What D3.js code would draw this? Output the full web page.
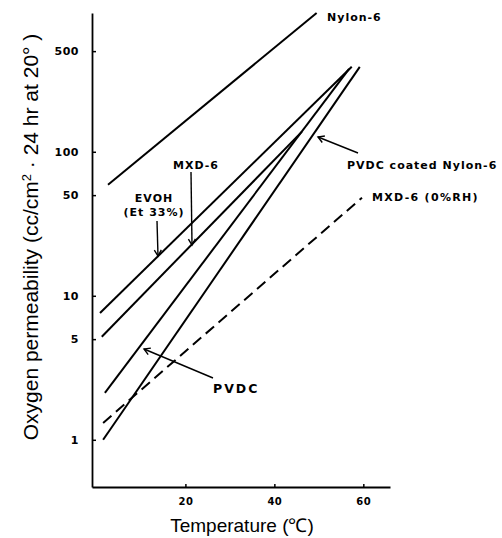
<!DOCTYPE html>
<html>
<head>
<meta charset="utf-8">
<script src="https://cdn.jsdelivr.net/npm/d3@7"></script>
<style>
  body { margin: 0; background: #fff; }
  svg { display: block; }
  .tick text { font-family: "DejaVu Sans", sans-serif; font-weight: bold; font-size: 10px; }
  .note { font-family: "DejaVu Sans", sans-serif; font-weight: bold; font-size: 11px; letter-spacing: 1px; }
  .title { font-family: "Liberation Sans", Arial, sans-serif; fill: #000; }
</style>
</head>
<body>
<div id="chart"></div>
<script>
// temperature (C), permeability (cc/cm2 24hr)
const nylon6 = [[2.6, 59], [49.5, 920]];
const evoh = [[0.8, 7.6], [57.4, 390]];
const mxd6 = [[1.2, 5.2], [46.2, 138]];
const pvdc = [[1.9, 2.12], [56.8, 377]];
const pvdcCoated = [[1.5, 1.0], [59.2, 389]];
const mxd6Dry = [[1.5, 1.31], [59.7, 48]];

const xTicks = [20, 40, 60];
const yTicks = [1, 5, 10, 50, 100, 500];

let w = 502;
let h = 538;

let x = d3.scaleLinear().domain([-1, 66]).range([92, 390]);
let y = d3.scaleLog().domain([0.47, 920]).range([487, 13]);

let svg = d3
  .select("#chart")
  .append("svg")
  .attr("width", w)
  .attr("height", h);

svg.append("defs")
  .append("marker")
  .attr("id", "head")
  .attr("viewBox", "-8 -5 10 10")
  .attr("refX", 0)
  .attr("refY", 0)
  .attr("markerWidth", 10)
  .attr("markerHeight", 10)
  .attr("markerUnits", "userSpaceOnUse")
  .attr("orient", "auto")
  .append("path")
  .attr("d", "M-6,-3.5L0,0L-6,3.5")
  .attr("fill", "none")
  .attr("stroke", "#000")
  .attr("stroke-width", 1.4);

let xAxis = d3.axisBottom(x)
  .tickValues(xTicks)
  .tickSizeInner(-3)
  .tickSizeOuter(0)
  .tickPadding(11);

let yAxis = d3.axisLeft(y)
  .tickValues(yTicks)
  .tickFormat(d3.format("d"))
  .tickSizeInner(-4)
  .tickSizeOuter(0)
  .tickPadding(13);

let gx = svg.append("g")
  .attr("transform", `translate(0,${y.range()[0]})`)
  .call(xAxis);

let gy = svg.append("g")
  .attr("transform", `translate(${x.range()[0]},0)`)
  .call(yAxis);

[gx, gy].forEach(function (g) {
  g.select(".domain").attr("stroke-width", 1.8);
  g.selectAll(".tick line").attr("stroke-width", 1.5);
  g.selectAll(".tick text").attr("fill", "#000");
});
gx.selectAll(".tick text").style("letter-spacing", "0.5px");
gy.selectAll(".tick text")
  .style("font-size", "11px")
  .style("letter-spacing", "0.5px");

let line = d3.line()
  .x(function (d) { return x(d[0]); })
  .y(function (d) { return y(d[1]); });

let solid = [nylon6, evoh, mxd6, pvdc, pvdcCoated];

svg.append("g")
  .selectAll("path")
  .data(solid)
  .enter()
  .append("path")
  .attr("d", line)
  .attr("fill", "none")
  .attr("stroke", "#000")
  .attr("stroke-width", 2);

svg.append("path")
  .attr("d", line(mxd6Dry))
  .attr("fill", "none")
  .attr("stroke", "#000")
  .attr("stroke-width", 2)
  .attr("stroke-dasharray", "11,6");

// labels
function note(tx, ty, str, anchor, ls, fs) {
  svg.append("text")
    .attr("class", "note")
    .attr("x", tx)
    .attr("y", ty)
    .attr("text-anchor", anchor || "start")
    .style("letter-spacing", (ls || 1) + "px")
    .style("font-size", (fs || 11) + "px")
    .text(str);
}
note(327, 21, "Nylon-6");
note(347, 169, "PVDC coated Nylon-6");
note(372, 201, "MXD-6 (0%RH)", "start", 1.3);
note(173, 169, "MXD-6");
note(154, 202, "EVOH", "middle");
note(154, 216, "(Et 33%)", "middle");
note(213, 393, "PVDC", "start", 2, 12.5);

// arrows
function arrow(x1, y1, x2, y2) {
  svg.append("line")
    .attr("x1", x1).attr("y1", y1)
    .attr("x2", x2).attr("y2", y2)
    .attr("stroke", "#000")
    .attr("stroke-width", 1.4)
    .attr("marker-end", "url(#head)");
}
arrow(157, 221, 158, 256);
arrow(191, 172, 192, 245);
arrow(358, 153, 318, 137);
arrow(213, 378, 144, 349);

// axis titles
svg.append("text")
  .attr("class", "title")
  .attr("x", 242)
  .attr("y", 532)
  .attr("text-anchor", "middle")
  .style("font-size", "19px")
  .text("Temperature (\u2103)");

let yt = svg.append("text")
  .attr("class", "title")
  .attr("transform", "translate(38,237) rotate(-90)")
  .attr("text-anchor", "middle")
  .style("font-size", "21px");
yt.append("tspan").text("Oxygen permeability (cc/cm");
yt.append("tspan").attr("baseline-shift", "super").style("font-size", "13px").text("2");
yt.append("tspan").text(" \u00b7 24 hr at 20\u00b0 )");
</script>
</body>
</html>
